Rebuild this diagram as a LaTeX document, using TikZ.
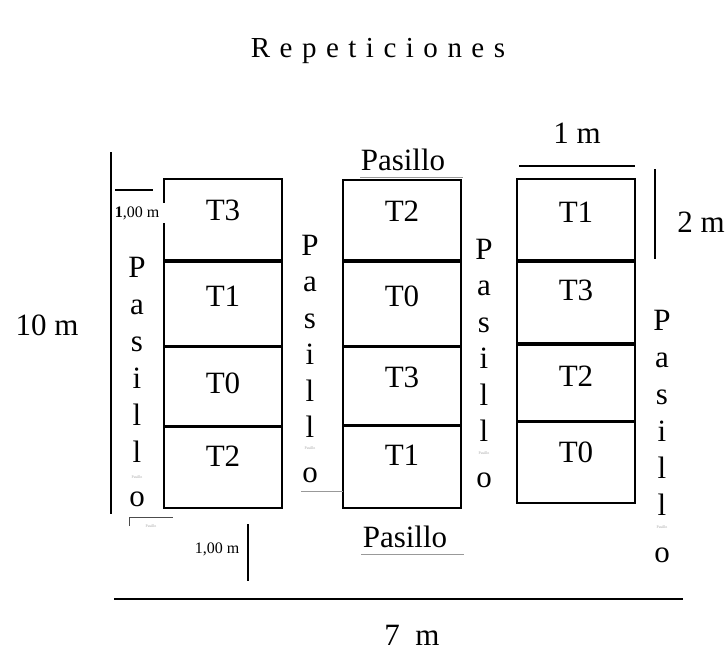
\documentclass[tikz,border=0pt]{standalone}
\usepackage{fontspec}
\setmainfont{Liberation Serif}
\newcommand\lsp{\hspace{9.5pt}}
\tikzset{
  big/.style={font=\fontsize{31}{37}\selectfont, inner sep=0pt},
  smalltxt/.style={font=\fontsize{16}{18}\selectfont, inner sep=0pt},
  tinytxt/.style={font=\fontsize{4}{4}\selectfont, text=gray!70, inner sep=0pt},
  box/.style={draw, line width=2pt},
  dimline/.style={line width=2pt},
  grayline/.style={draw=gray!80, line width=0.9pt},
}
\begin{document}
\begin{tikzpicture}[x=1pt,y=-1pt]
\useasboundingbox (0,0) rectangle (728,653);
% title
\node[font=\fontsize{29}{34}\selectfont, inner sep=0pt, anchor=base] (title) at (378,57)
  {R\lsp e\lsp p\lsp e\lsp t\lsp i\lsp c\lsp i\lsp o\lsp n\lsp e\lsp s};
% boxes left column
\draw[box] (164,179) rectangle (282,259.5);
\draw[box] (164,261.5) rectangle (282,345.5);
\draw[box] (164,347) rectangle (282,425.5);
\draw[box] (164,427) rectangle (282,508);
% middle column
\draw[box] (343,180) rectangle (461,259.5);
\draw[box] (343,261.5) rectangle (461,345.5);
\draw[box] (343,347) rectangle (461,424.5);
\draw[box] (343,426) rectangle (461,508);
% right column
\draw[box] (517,179) rectangle (635,259.5);
\draw[box] (517,261.5) rectangle (635,343);
\draw[box] (517,344.5) rectangle (635,420.5);
\draw[box] (517,422) rectangle (635,502.5);
% labels
\node[big] (l1) at (223,210) {T3};
\node[big] (l2) at (223,296) {T1};
\node[big] (l3) at (223,383) {T0};
\node[big] (l4) at (223,456) {T2};
\node[big] (m1) at (402,211) {T2};
\node[big] (m2) at (402,296) {T0};
\node[big] (m3) at (402,377) {T3};
\node[big] (m4) at (402,455) {T1};
\node[big] (r1) at (576,212) {T1};
\node[big] (r2) at (576,290) {T3};
\node[big] (r3) at (576,376) {T2};
\node[big] (r4) at (576,452) {T0};
% vertical Pasillo columns
\foreach \c/\y [count=\i] in {P/277,a/314,s/351,i/388,l/425,l/462,o/506}
  \node[big, anchor=base] (pa\i) at (137,\y) {\c};
\node[tinytxt] (pat) at (137,477) {Pasillo};
\foreach \c/\y [count=\i] in {P/255,a/291.5,s/328,i/364.5,l/401,l/437.5,o/482}
  \node[big, anchor=base] (pb\i) at (310,\y) {\c};
\node[tinytxt] (pbt) at (310,448) {Pasillo};
\foreach \c/\y [count=\i] in {P/259,a/295.5,s/332,i/368.5,l/405,l/441,o/487}
  \node[big, anchor=base] (pc\i) at (484,\y) {\c};
\node[tinytxt] (pct) at (484,453) {Pasillo};
\foreach \c/\y [count=\i] in {P/330,a/367,s/404,i/441,l/478,l/515,o/562}
  \node[big, anchor=base] (pd\i) at (662,\y) {\c};
\node[tinytxt] (pdt) at (662,527) {Pasillo};
% horizontal Pasillo labels
\node[big] (ptop) at (403,160) {Pasillo};
\node[big] (pbot) at (405,537) {Pasillo};
\coordinate (ut1) at (360,177); \coordinate (ut2) at (463,177);
\draw[grayline] (ut1) -- (ut2);
\coordinate (ub1) at (361,554); \coordinate (ub2) at (464,554);
\draw[grayline] (ub1) -- (ub2);
\coordinate (gm1) at (301,491); \coordinate (gm2) at (343,491);
\draw[grayline] (gm1) -- (gm2);
% left dimension
\coordinate (lv1) at (111,152); \coordinate (lv2) at (111,514);
\draw[dimline] (lv1) -- (lv2);
\coordinate (lh1) at (115,190); \coordinate (lh2) at (153,190);
\draw[dimline] (lh1) -- (lh2);
\fill[white] (161,203) rectangle (167,223);
\node[smalltxt] (d1) at (137,213) {\textbf{1},00 m};
\node[big] (ten) at (47,325) {10 m};
% bottom-left fragment
\coordinate (f1) at (129,526); \coordinate (f2) at (129,517); \coordinate (f3) at (173,517);
\draw[grayline, draw=black!70] (f1) -- (f2) -- (f3);
\begin{scope}
  \clip (130,518) rectangle (172,526);
  \node[tinytxt] (fr) at (151,526) {Pasillo};
\end{scope}
% bottom dimension
\node[smalltxt] (d2) at (217,549) {1,00 m};
\coordinate (bv1) at (248,524); \coordinate (bv2) at (248,581);
\draw[dimline] (bv1) -- (bv2);
\coordinate (bl1) at (114,599); \coordinate (bl2) at (683,599);
\draw[dimline] (bl1) -- (bl2);
\node[big] (seven) at (412,635) {7\ \ m};
% right dimensions
\node[big] (onem) at (577,133) {1 m};
\coordinate (rh1) at (519,166); \coordinate (rh2) at (635,166);
\draw[dimline] (rh1) -- (rh2);
\coordinate (rv1) at (655,169); \coordinate (rv2) at (655,259);
\draw[dimline] (rv1) -- (rv2);
\node[big] (twom) at (701,222) {2 m};
\end{tikzpicture}
\end{document}
